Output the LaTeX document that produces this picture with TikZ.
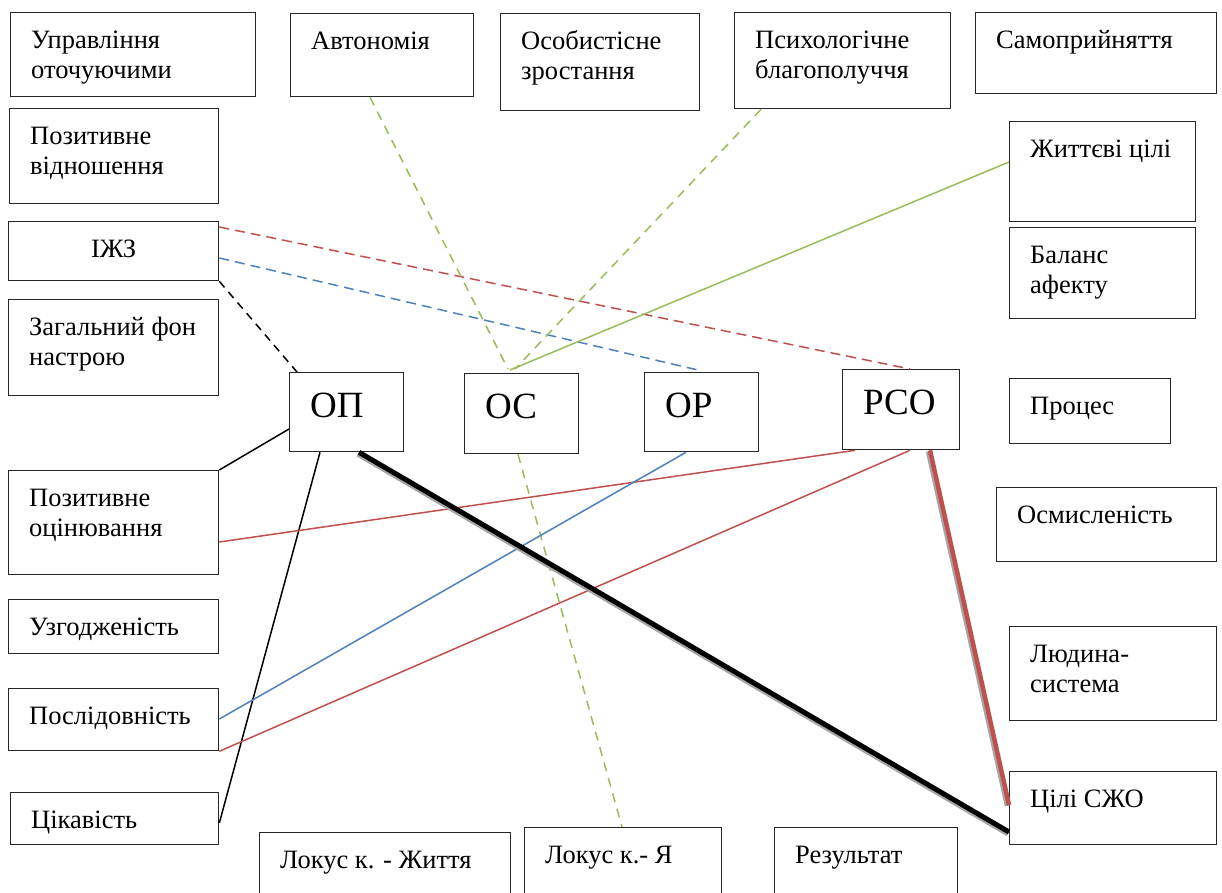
\documentclass[tikz,border=0pt]{standalone}
\usepackage{fontspec}
\setmainfont{Liberation Serif}
\newfontfamily\tnr{Liberation Serif}
\usetikzlibrary{calc}
\definecolor{cred}{HTML}{C0504D}
\definecolor{cblue}{HTML}{4F81BD}
\definecolor{cgreen}{HTML}{9BBB59}
\definecolor{cshadow}{HTML}{A6A6A6}
\tikzset{
  bx/.style={draw=black!85, line width=1.3pt, rectangle, inner sep=0pt, fill=none},
  lbl/.style={inner sep=0pt, align=left, font=\tnr\fontsize{26.5}{30}\selectfont},
  biglbl/.style={inner sep=0pt, font=\tnr\fontsize{37}{40}\selectfont},
  conn/.style={line width=1.5pt},
  rdash/.style={conn, cred, dash pattern=on 10pt off 6pt},
  bdash/.style={conn, cblue, dash pattern=on 10pt off 6pt},
  gdash/.style={conn, cgreen, dash pattern=on 9pt off 7pt},
  kdash/.style={conn, black, dash pattern=on 8pt off 6pt},
  thickk/.style={line width=5pt, black},
  thickr/.style={line width=4.5pt, cred},
  shad/.style={line width=5pt, cshadow},
}
% name, x1, y1, x2, y2, text, baseline offset of last line
\newcommand{\mkbox}[7]{%
  \node[bx, anchor=north west, minimum width={(#4-#2)*1pt}, minimum height={(#5-#3)*1pt}] (#1) at (#2,#3) {};
  \node[lbl, anchor=base west] (#1-t) at ([xshift=21pt,yshift=-#7pt]#1.north west) {#6};
}
\newcommand{\mkbig}[6]{%
  \node[bx, anchor=north west, minimum width={(#4-#2)*1pt}, minimum height={(#5-#3)*1pt}] (#1) at (#2,#3) {};
  \node[biglbl, anchor=base west] (#1-t) at ([xshift=21pt,yshift=-45pt]#1.north west) {#6};
}
\begin{document}
\begin{tikzpicture}[x=1pt,y=-1pt]
\useasboundingbox (0,0) rectangle (1222,892);
\clip (0,0) rectangle (1222,892);
\fill[white] (0,0) rectangle (1222,892);

% top row
\mkbox{upr}{10}{12}{255}{96}{Управління\\оточуючими}{66}
\mkbox{avt}{290}{13}{473}{96}{Автономія}{36}
\mkbox{osz}{500}{13}{699}{110}{Особистісне\\зростання}{66}
\mkbox{psy}{734}{12}{950}{108}{Психологічне\\благополуччя}{66}
\mkbox{sam}{975}{12}{1216}{93}{Самоприйняття}{36}
% left column
\mkbox{pvid}{9}{108}{218}{203}{Позитивне\\відношення}{66}
\node[bx, anchor=north west, minimum width=210pt, minimum height=59pt] (izz) at (8,221) {};
\node[lbl, anchor=base] (izz-t) at ([yshift=-36pt]izz.north) {ІЖЗ};
\mkbox{zag}{8}{299}{218}{395}{Загальний фон\\настрою}{66}
\mkbox{poc}{8}{470}{218}{574}{Позитивне\\оцінювання}{66}
\mkbox{uzg}{8}{599}{218}{653}{Узгодженість}{36}
\mkbox{pos}{8}{688}{218}{750}{Послідовність}{36}
\mkbox{cik}{10}{792}{218}{844}{Цікавість}{36}
% middle row
\mkbig{op}{289}{372}{403}{451}{ОП}
\mkbig{os}{464}{373}{578}{453}{ОС}
\mkbig{or}{644}{372}{758}{451}{ОР}
\mkbig{rso}{842}{369}{959}{449}{РСО}
% right column
\mkbox{zhc}{1009}{121}{1195}{221}{Життєві цілі}{36}
\mkbox{bal}{1009}{227}{1195}{318}{Баланс\\афекту}{66}
\mkbox{pro}{1009}{378}{1170}{443}{Процес}{36}
\mkbox{osm}{996}{487}{1216}{561}{Осмисленість}{36}
\mkbox{lud}{1009}{626}{1216}{720}{Людина-\\система}{66}
\mkbox{csj}{1009}{771}{1216}{844}{Цілі СЖО}{36}
% bottom row
\mkbox{lzh}{259}{832}{510}{910}{Локус к. - Життя}{36}
\mkbox{lya}{524}{827}{721}{910}{Локус к.- Я}{36}
\mkbox{rez}{774}{827}{957}{910}{Результат}{36}

% connectors
\draw[kdash] (izz.south east) -- ([xshift=8pt]op.north west);
\draw[rdash] ([yshift=-6pt]izz.north east) -- ([xshift=68pt]rso.north west);
\draw[bdash] ([yshift=-37pt]izz.north east) -- ([xshift=54pt,yshift=2pt]or.north west);
\draw[gdash] ([xshift=80pt]avt.south west) -- ([xshift=44pt,yshift=4pt]os.north west);
\draw[gdash] ([xshift=27pt]psy.south west) -- ([xshift=51pt,yshift=4pt]os.north west);
\draw[conn, cgreen] ([yshift=-41pt]zhc.north west) -- ([xshift=46pt,yshift=3pt]os.north west);
\draw[gdash] ([xshift=54pt]os.south west) -- ([xshift=98pt]lya.north west);
\draw[conn, black] ([yshift=-57pt]op.north west) -- (poc.north east);
\draw[conn, black] ([xshift=31pt]op.south west) -- ([yshift=-31pt]cik.north east);
\draw[conn, cred] ([xshift=13pt]rso.south west) -- ([yshift=-72pt]poc.north east);
\draw[conn, cred] ([xshift=68pt]rso.south west) -- (pos.south east);
\draw[conn, cblue] ([xshift=42pt]or.south west) -- ([yshift=-31pt]pos.north east);
% thick connectors with shadow
\draw[shad] ([xshift=69pt,yshift=-2pt]op.south west) -- ([xshift=-1pt,yshift=-63pt]csj.north west);
\draw[thickk] ([xshift=70pt]op.south west) -- ([yshift=-61pt]csj.north west);
\draw[shad, line width=4.5pt] ([xshift=86pt,yshift=-1pt]rso.south west) -- ([xshift=-2pt,yshift=-35pt]csj.north west);
\draw[thickr] ([xshift=88pt]rso.south west) -- ([yshift=-34pt]csj.north west);
\end{tikzpicture}
\end{document}
